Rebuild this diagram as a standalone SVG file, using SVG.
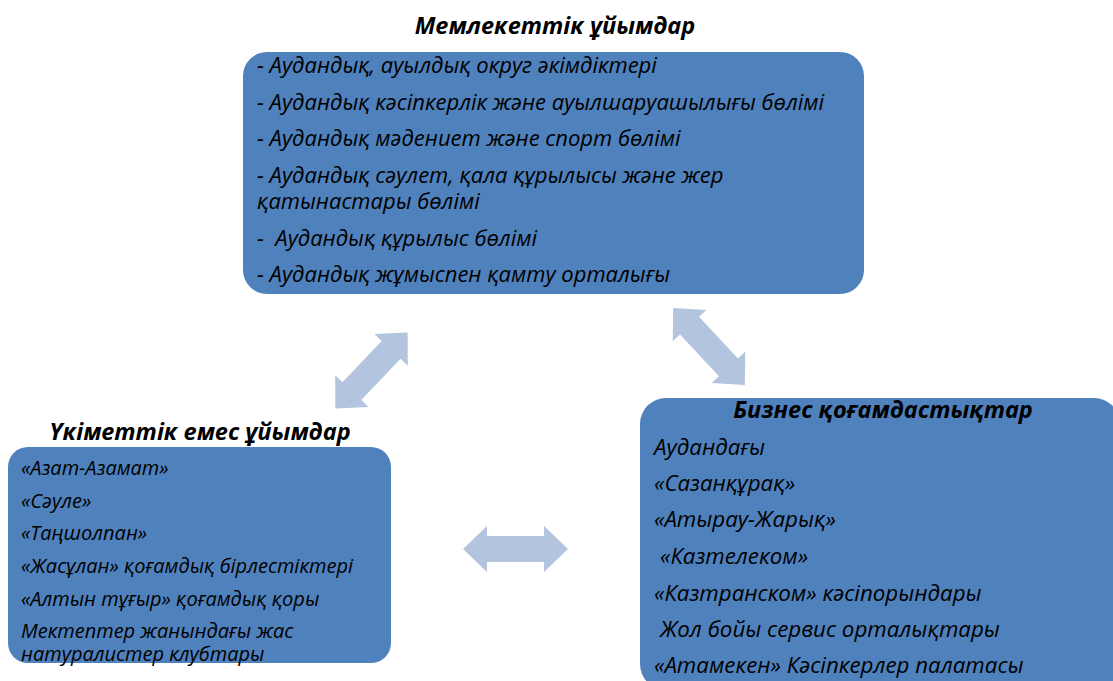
<svg xmlns="http://www.w3.org/2000/svg" width="1113" height="681" viewBox="0 0 1113 681">
<style>
.box{fill:#4F81BD;}
.t{font-family:"Open Sans","Noto Sans","Liberation Sans",sans-serif;font-style:italic;fill:#000;white-space:pre;}
.main{font-size:22px;}
.right{font-size:22.3px;}
.small{font-size:20px;}
.title{font-size:23.5px;font-weight:bold;text-anchor:middle;}
.arrow{fill:#B3C4DE;}
</style>
<defs>
<polygon id="dbl" points="-52.5,0 -28.5,-23 -28.5,-13 28.5,-13 28.5,-23 52.5,0 28.5,23 28.5,13 -28.5,13 -28.5,23"/>
</defs>
<rect width="1113" height="681" fill="#fff"/>
<g id="connectors" class="arrow">
<use href="#dbl" transform="translate(371.5,370.5) rotate(-46.5)"/>
<use href="#dbl" transform="translate(709,346.5) rotate(47)"/>
<use href="#dbl" transform="translate(515.5,549)"/>
</g>
<g id="gov">
<text class="t title" x="555" y="34">Мемлекеттік ұйымдар</text>
<rect class="box" x="243" y="52" width="621" height="242" rx="24"/>
<text class="t main" x="257" y="73">- Аудандық, ауылдық округ әкімдіктері</text>
<text class="t main" x="257" y="110">- Аудандық кәсіпкерлік және ауылшаруашылығы бөлімі</text>
<text class="t main" x="257" y="146">- Аудандық мәдениет және спорт бөлімі</text>
<text class="t main" x="257" y="183">- Аудандық сәулет, қала құрылысы және жер<tspan x="257" y="209">қатынастары бөлімі</tspan></text>
<text class="t main" x="257" y="246">-  Аудандық құрылыс бөлімі</text>
<text class="t main" x="257" y="282">- Аудандық жұмыспен қамту орталығы</text>
</g>
<g id="ngo">
<text class="t title" x="200" y="440">Үкіметтік емес ұйымдар</text>
<rect class="box" x="8" y="447" width="383" height="216" rx="20"/>
<text class="t small" x="21" y="475">«Азат-Азамат»</text>
<text class="t small" x="21" y="508">«Сәуле»</text>
<text class="t small" x="21" y="540">«Таңшолпан»</text>
<text class="t small" x="21" y="573">«Жасұлан» қоғамдық бірлестіктері</text>
<text class="t small" x="21" y="606">«Алтын тұғыр» қоғамдық қоры</text>
<text class="t small" x="21" y="638">Мектептер жанындағы жас<tspan x="21" y="661">натуралистер клубтары</tspan></text>
</g>
<g id="business">
<rect class="box" x="640" y="398" width="480" height="292" rx="26"/>
<text class="t title" x="883" y="418">Бизнес қоғамдастықтар</text>
<text class="t right" x="654" y="455">Аудандағы</text>
<text class="t right" x="654" y="491">«Сазанқұрақ»</text>
<text class="t right" x="654" y="527">«Атырау-Жарық»</text>
<text class="t right" x="660" y="564">«Казтелеком»</text>
<text class="t right" x="654" y="601">«Казтранском» кәсіпорындары</text>
<text class="t right" x="660" y="637">Жол бойы сервис орталықтары</text>
<text class="t right" x="654" y="673">«Атамекен» Кәсіпкерлер палатасы</text>
</g>
</svg>
